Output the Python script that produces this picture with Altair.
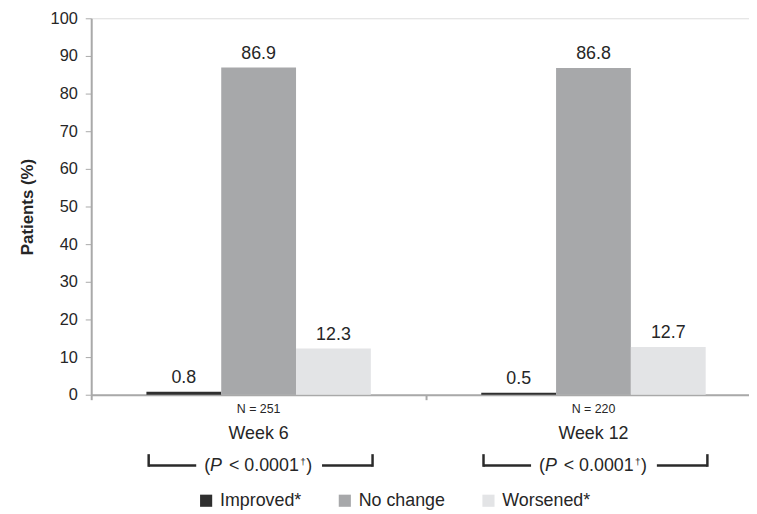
import altair as alt
import pandas as pd

# ---- data ----
groups = ["Week 6", "Week 12"]
series = ["Improved*", "No change", "Worsened*"]
improved = [0.8, 0.5]
no_change = [86.9, 86.8]
worsened = [12.3, 12.7]
n_labels = ["N = 251", "N = 220"]
p_values = ["< 0.0001", "< 0.0001"]
colors = ["#2f2f2f", "#a7a8aa", "#e3e4e6"]
y_ticks = list(range(0, 101, 10))

rows = []
for i, g in enumerate(groups):
    for s, vals in zip(series, [improved, no_change, worsened]):
        rows.append({"group": g, "series": s, "value": vals[i]})
df = pd.DataFrame(rows)
ann = pd.DataFrame({"group": groups, "n": n_labels, "p": p_values})

FONT = "Liberation Sans"
TXT = "#262626"
AX = "#a9a9a9"
H = 380

x_axis = alt.Axis(title=None, labels=False, tickBand="extent", domainColor=AX,
                  tickColor=AX, tickSize=5, domainWidth=2, tickWidth=2)
x_scale = alt.Scale(range=[0, 676], paddingInner=0, paddingOuter=0)
xg = alt.X("group:N", sort=groups, scale=x_scale, axis=x_axis)
xo_enc = alt.XOffset("series:N", sort=series,
                     scale=alt.Scale(paddingOuter=0.738, paddingInner=0))
y_axis = alt.Axis(title="Patients (%)", values=y_ticks, tickCount=11, grid=False,
                  domainColor=AX, tickColor=AX, domainWidth=2, tickSize=6,
                  labelPadding=8, labelFontSize=16.5, labelColor=TXT, labelFont=FONT,
                  labelOverlap=False, titleFont=FONT, titleFontSize=17,
                  titleFontWeight="bold", titleColor=TXT, titlePadding=14)
y_enc = alt.Y("value:Q", scale=alt.Scale(domain=[0, 100]), axis=y_axis)

base = alt.Chart(df)
bars = base.mark_bar().encode(
    x=xg,
    xOffset=xo_enc,
    y=y_enc,
    color=alt.Color(
        "series:N", sort=series,
        scale=alt.Scale(domain=series, range=colors),
        legend=alt.Legend(title=None, orient="none", direction="horizontal",
                          legendX=107, legendY=478, symbolType="square",
                          symbolSize=150, symbolStrokeWidth=0, labelFont=FONT,
                          labelFontSize=18, labelColor=TXT, labelOffset=5,
                          columnPadding=34),
    ),
)
labels = base.mark_text(dy=-14, fontSize=18, font=FONT, color=TXT).encode(
    x=xg,
    xOffset=xo_enc,
    y=y_enc,
    text=alt.Text("value:Q", format=".1f"),
)

annb = alt.Chart(ann)
n_text = annb.mark_text(fontSize=12.5, font=FONT, color=TXT, baseline="middle").encode(
    x=xg, y=alt.value(H + 14), text="n:N")
week_text = annb.mark_text(fontSize=18, font=FONT, color=TXT, baseline="middle").encode(
    x=xg, y=alt.value(H + 40), text="group:N")

PY = H + 72
def piece(txt=None, field=None, dx=0, size=18, style="normal", dy=0):
    kw = dict(align="left", baseline="middle", dx=dx, dy=dy, fontSize=size,
              font=FONT, color=TXT, fontStyle=style)
    if txt is not None:
        kw["text"] = txt
    m = annb.mark_text(**kw)
    enc = dict(x=xg, y=alt.value(PY))
    if field is not None:
        enc["text"] = field
    return m.encode(**enc)

p_parts = [
    piece("(", dx=-55),
    piece("P", dx=-49, style="italic"),
    piece(field="p:N", dx=-30),
    piece("\u2020", dx=42, size=10, dy=-4),
    piece(")", dx=48),
]

BR = "#2a2a2a"
def hline(x0, x1):
    return annb.mark_rule(color=BR, strokeWidth=2.5, xOffset=x0, x2Offset=x1).encode(
        x=xg, x2=alt.X2("group"), y=alt.value(PY - 0.5))
def vline(x0):
    return annb.mark_rule(color=BR, strokeWidth=2.5, xOffset=x0).encode(
        x=xg, y=alt.value(PY - 12), y2=alt.value(PY + 0.75))

bracket = [hline(-111, -63), hline(64, 115), vline(-111), vline(115)]

chart = alt.layer(bars, labels, n_text, week_text, *p_parts, *bracket).properties(
    width=664, height=H,
    autosize=alt.AutoSizeParams(type="none"),
    padding={"left": 84, "top": 8, "right": 0, "bottom": 117},
).configure_view(stroke=None).configure(font=FONT)

chart.save("out.html", embed_options={"renderer": "svg", "actions": False})
